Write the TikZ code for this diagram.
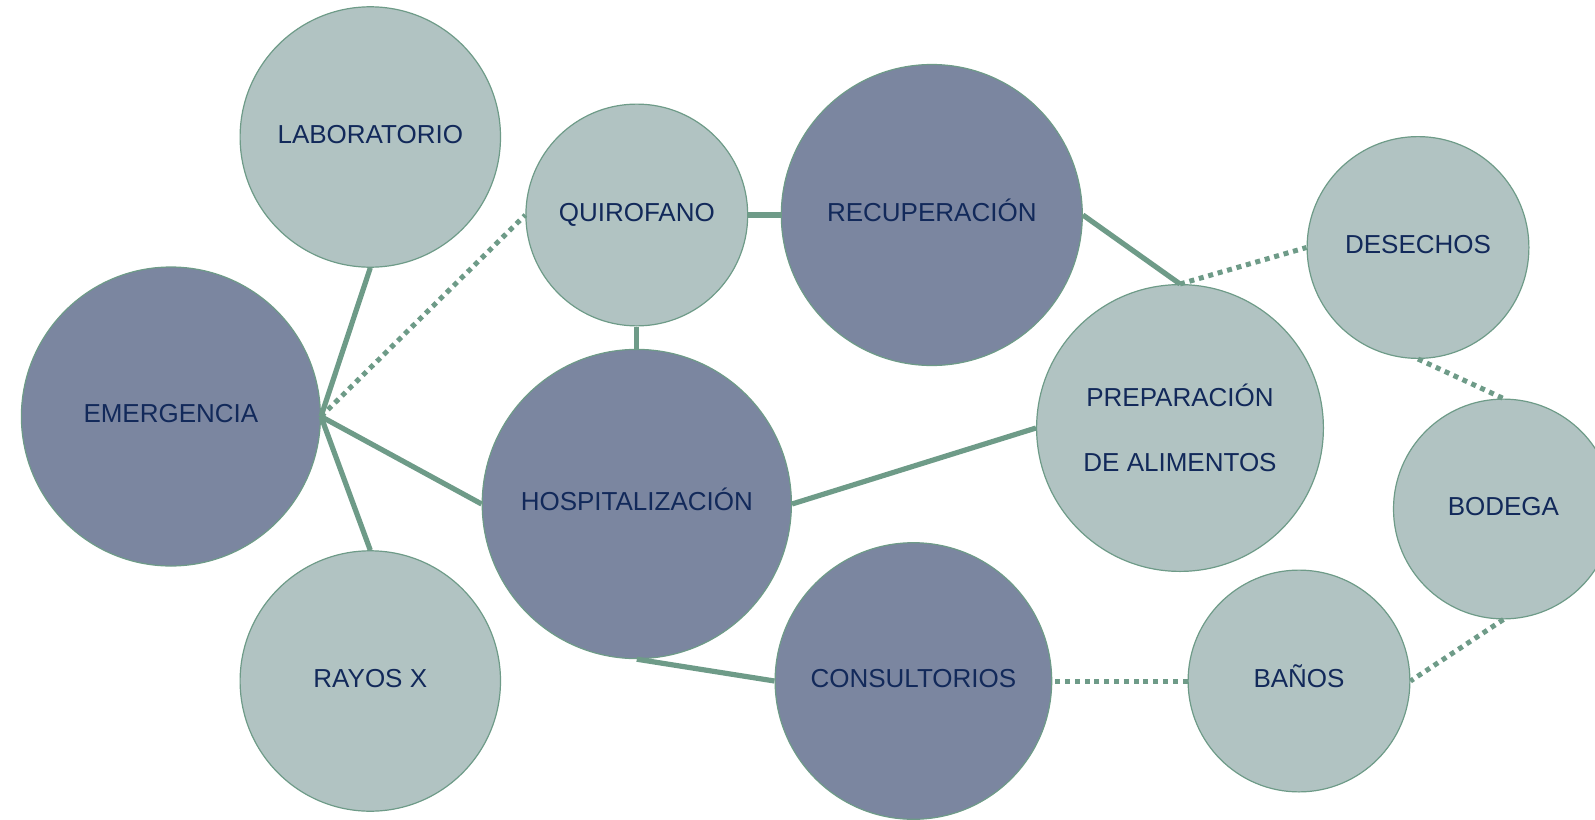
\documentclass[tikz,border=0pt]{standalone}
\usepackage{fontspec}
\setmainfont{Liberation Sans}
\usepackage{tikz}
\usetikzlibrary{calc}
\definecolor{roomlight}{HTML}{B1C3C2}
\definecolor{roomdark}{HTML}{7B86A0}
\definecolor{linkgreen}{HTML}{6E9B88}
\definecolor{labelnavy}{HTML}{12295A}
\tikzset{
  room/.style={circle, draw=linkgreen, line width=0.6pt, text=labelnavy, align=center, inner sep=0pt,
    font=\fontsize{13pt}{15.6pt}\selectfont},
  lightroom/.style={room, fill=roomlight},
  darkroom/.style={room, fill=roomdark},
  oneline/.style={text height=9.3pt, text depth=3pt},
  directlink/.style={draw=linkgreen, line width=2.6pt},
  dottedlink/.style={draw=linkgreen, line width=2.5pt, dash pattern=on 2.5pt off 2.4pt}
}

\begin{document}
\begin{tikzpicture}[x=0.5pt, y=-0.5pt]
      \useasboundingbox (0,0) rectangle (1595,819);

      % Left group
      \node[lightroom, oneline, minimum size=130.2pt] (lab) at (370.3,137) {LABORATORIO};
      \node[darkroom, oneline, minimum size=149.5pt] (emg) at (170.9,416.5) {EMERGENCIA};
      \node[lightroom, oneline, minimum size=130.2pt] (ray) at (370.3,681) {RAYOS X};

      % Middle group
      \node[lightroom, oneline, minimum size=110.9pt] (qui) at (636.8,215) {QUIROFANO};
      \node[darkroom, oneline, minimum size=150.5pt] (rec) at (931.8,215) {RECUPERACIÓN};
      \node[darkroom, oneline, minimum size=154.6pt] (hos) at (636.8,504) {HOSPITALIZACIÓN};
      \node[darkroom, oneline, minimum size=138.3pt] (con) at (913.4,681) {CONSULTORIOS};

      % Right group
      \node[lightroom, minimum size=143.4pt, font=\fontsize{13pt}{32.5pt}\selectfont] (pre) at (1180,428) {PREPARACIÓN\\DE ALIMENTOS};
      \node[lightroom, oneline, minimum size=110.9pt] (des) at (1418,247.5) {DESECHOS};
      \node[lightroom, oneline, minimum size=109.9pt] (bod) at (1503.4,509) {BODEGA};
      \node[lightroom, oneline, minimum size=110.9pt] (ban) at (1299,681) {BAÑOS};

      % Solid links
      \draw[directlink] (emg.east) -- (lab.south);
      \draw[directlink] (emg.east) -- (ray.north);
      \draw[directlink] (emg.east) -- (hos.west);
      \draw[directlink] (qui.south) -- (hos.north);
      \draw[directlink] (qui.east) -- (rec.west);
      \draw[directlink] (rec.east) -- (pre.north);
      \draw[directlink] (hos.east) -- (pre.west);
      \draw[directlink] (hos.south) -- (con.west);

      % Dotted links
      \draw[dottedlink] (emg.east) -- (qui.west);
      \draw[dottedlink] (pre.north) -- (des.west);
      \draw[dottedlink] (des.south) -- (bod.north);
      \draw[dottedlink] (bod.south) -- (ban.east);
      \draw[dottedlink] (ban.west) -- (con.east);
\end{tikzpicture}
\end{document}
